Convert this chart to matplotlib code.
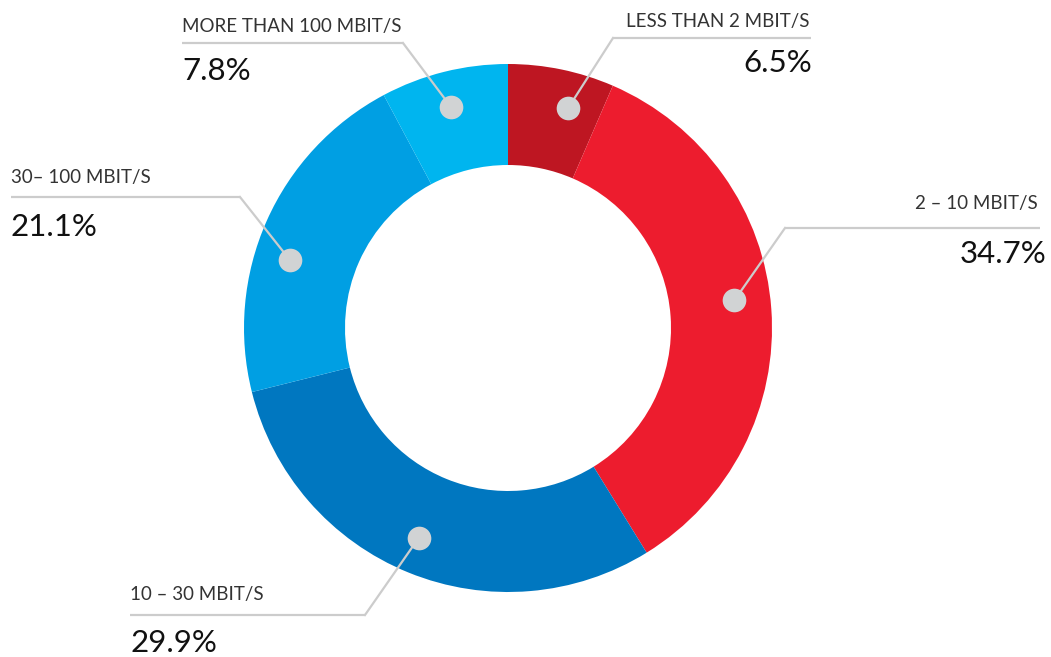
import numpy as np
import matplotlib
matplotlib.use("Agg")
import matplotlib.pyplot as plt

# ---- data ----
categories = ["LESS THAN 2 MBIT/S", "2 – 10 MBIT/S", "10 – 30 MBIT/S", "30– 100 MBIT/S", "MORE THAN 100 MBIT/S"]
shares = [6.5, 34.7, 29.9, 21.1, 7.8]
pct_labels = ["6.5%", "34.7%", "29.9%", "21.1%", "7.8%"]
colors = ["#BE1622", "#ED1C2E", "#0077C0", "#009FE3", "#00B5EF"]

# ---- layout (pixel coords, y measured from top) ----
W, H = 1051, 657
cx, cy = 508, 328
R_out, ring = 264, 101
dot_r = 228
dot_angle_offset = [-3.6, 2.8, -0.9, 6.7, 0.4]   # degrees, fine-tune of dot placement
# (text x, label baseline y, line y, line x0, line x1, pct x, pct baseline y, align, elbow x)
label_layout = [
    (810, 27, 38, 613, 811, 812, 72, "right", 613),
    (1038, 209, 228, 785, 1040, 1046, 263, "right", 785),
    (130, 600, 615, 130, 365, 130, 652, "left", 365),
    (11, 183, 197, 11, 240, 10, 236, "left", 240),
    (182, 32, 43, 182, 403, 182, 80, "left", 403),
]

fig = plt.figure(figsize=(W / 100, H / 100), dpi=100)
ax = fig.add_axes([0, 0, 1, 1])

def Y(y):
    return H - y

wedges, _ = ax.pie(shares, colors=colors, startangle=90, counterclock=False,
                   center=(cx, Y(cy)), radius=R_out,
                   wedgeprops=dict(width=ring, linewidth=0), frame=True)

ax.set_xlim(0, W)
ax.set_ylim(0, H)
ax.set_aspect("equal")
ax.axis("off")

line_col = "#CCCCCC"
dot_col = "#D1D3D4"

for i, w in enumerate(wedges):
    mid = (w.theta1 + w.theta2) / 2 + dot_angle_offset[i]
    dx = cx + dot_r * np.cos(np.radians(mid))
    dy = Y(cy) + dot_r * np.sin(np.radians(mid))
    tx, lby, ly, lx0, lx1, px, pby, ha, ex = label_layout[i]
    ax.plot([lx0, lx1], [Y(ly), Y(ly)], color=line_col, lw=1.6, solid_capstyle="butt", zorder=3)
    ax.plot([ex, dx], [Y(ly), dy], color=line_col, lw=1.6, zorder=3)
    ax.scatter([dx], [dy], s=290, color=dot_col, zorder=4, linewidths=0)
    ax.text(tx, Y(lby), categories[i], ha=ha, va="baseline", fontsize=13.5,
            family="Lato", fontweight="normal", color="#333333")
    ax.text(px, Y(pby), pct_labels[i], ha=ha, va="baseline", fontsize=22.5,
            family="Lato", color="#111111")

fig.savefig("out.png", dpi=100)
